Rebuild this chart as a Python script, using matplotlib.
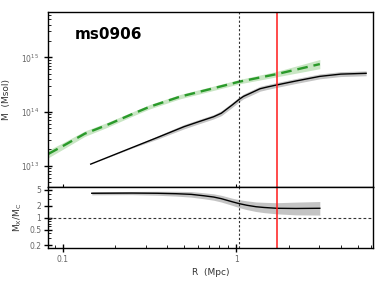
import numpy as np
import matplotlib.pyplot as plt
from matplotlib.ticker import LogLocator, FixedLocator, FixedFormatter, NullFormatter

# green (dashed) profile
r_g = [0.0826, 0.1, 0.134, 0.179, 0.25, 0.318, 0.474, 0.737, 1.04, 1.71, 3.03]
m_g = [1.65e13, 2.3e13, 3.9e13, 5.6e13, 8.9e13, 1.23e14, 1.88e14, 2.68e14, 3.55e14, 4.9e14, 7.5e14]
e_g = [0.07, 0.06, 0.05, 0.045, 0.04, 0.04, 0.04, 0.04, 0.04, 0.05, 0.085]

# black profile
r_k = [0.145, 0.25, 0.35, 0.5, 0.6, 0.74, 0.82, 0.95, 1.04, 1.1, 1.2, 1.37, 1.5, 1.71,
       2.2, 3.03, 4.0, 5.6]
m_k = [1.07e13, 2.15e13, 3.3e13, 5.25e13, 6.4e13, 8.0e13, 9.3e13, 1.33e14, 1.68e14, 1.9e14,
       2.16e14, 2.63e14, 2.82e14, 3.09e14, 3.65e14, 4.45e14, 4.9e14, 5.07e14]
e_k = [0.0, 0.01, 0.03, 0.04, 0.04, 0.04, 0.045, 0.045, 0.045, 0.045, 0.045, 0.045, 0.045,
       0.045, 0.045, 0.045, 0.045, 0.045]

# ratio
r_r = [0.147, 0.25, 0.35, 0.45, 0.55, 0.65, 0.74, 0.82, 0.95, 1.04, 1.15, 1.3, 1.45, 1.71,
       2.2, 3.03]
ratio = [4.1, 4.15, 4.1, 4.0, 3.85, 3.55, 3.3, 3.0, 2.5, 2.25, 2.05, 1.88, 1.8, 1.72,
         1.70, 1.72]
e_r = [0.04, 0.04, 0.05, 0.06, 0.07, 0.075, 0.08, 0.085, 0.09, 0.1, 0.11, 0.12, 0.13, 0.14,
       0.16, 0.17]

r_dash = 1.04
r_red = 1.71

grey = '#666666'
fig = plt.figure(figsize=(3.85, 2.89), dpi=100)
ax1 = fig.add_axes([0.1255, 0.354, 0.8425, 0.6034])
ax2 = fig.add_axes([0.1255, 0.141, 0.8425, 0.213], sharex=ax1)

def band(ax, r, m, e, color):
    m = np.array(m); e = np.array(e)
    ax.fill_between(r, m * 10**-e, m * 10**e, color=color, lw=0)

band(ax1, r_g, m_g, e_g, '#c9e6c4')
ax1.plot(r_g, m_g, color='#2a9a2a', lw=1.7, dashes=(4.5, 2.5))
band(ax1, r_k, m_k, e_k, '#c4c4c4')
ax1.plot(r_k, m_k, color='black', lw=1.0)

band(ax2, r_r, ratio, e_r, '#c4c4c4')
ax2.plot(r_r, ratio, color='black', lw=1.0)
ax2.axhline(1, color='#333333', lw=0.8, dashes=(2.5, 2))

for ax in (ax1, ax2):
    ax.axvline(r_dash, color='#333333', lw=0.8, dashes=(2, 1.8))
    ax.axvline(r_red, color='#ff1a1a', lw=1.1)
    ax.set_xscale('log')
    ax.set_yscale('log')
    for s in ax.spines.values():
        s.set_linewidth(1.0)

ax1.set_xlim(0.0826, 6.11)
ax1.set_ylim(4.1e12, 6.77e15)
ax2.set_ylim(0.170, 6.0)

ax1.text(0.118, 2.2e15, 'ms0906', fontsize=11, fontweight='bold')
ax1.set_ylabel('M  (Msol)', fontsize=6.5, color='#333333', labelpad=7)
ax2.set_ylabel(r'M$_\mathregular{X}$/M$_\mathregular{C}$', fontsize=6.5, color='#333333', labelpad=4)
ax2.set_xlabel('R  (Mpc)', fontsize=6.5, color='#333333', labelpad=3)

ax1.yaxis.set_major_locator(FixedLocator([1e13, 1e14, 1e15]))
ax1.yaxis.set_minor_locator(LogLocator(base=10, subs=np.arange(2, 10)))
ax1.yaxis.set_minor_formatter(NullFormatter())
ax1.tick_params(axis='y', which='major', direction='inout', length=6, width=1,
                labelsize=5.5, labelcolor=grey)
ax1.tick_params(axis='y', which='minor', direction='in', length=2.5, width=0.6)
ax1.tick_params(axis='x', which='major', direction='in', length=2.5, labelbottom=False)
ax1.tick_params(axis='x', which='minor', length=0)

ax2.yaxis.set_major_locator(FixedLocator([0.2, 0.5, 1, 2, 5]))
ax2.yaxis.set_major_formatter(FixedFormatter(['0.2', '0.5', '1', '2', '5']))
ax2.yaxis.set_minor_locator(LogLocator(base=10, subs=np.arange(2, 10)))
ax2.yaxis.set_minor_formatter(NullFormatter())
ax2.xaxis.set_major_locator(FixedLocator([0.1, 1]))
ax2.xaxis.set_major_formatter(FixedFormatter(['0.1', '1']))
ax2.xaxis.set_minor_locator(LogLocator(base=10, subs=np.arange(2, 10)))
ax2.xaxis.set_minor_formatter(NullFormatter())
ax2.tick_params(which='major', direction='inout', length=6, width=1,
                labelsize=5.5, labelcolor=grey, pad=2)
ax2.tick_params(which='minor', direction='in', length=2.5, width=0.6)

fig.savefig('out.png', dpi=100)
